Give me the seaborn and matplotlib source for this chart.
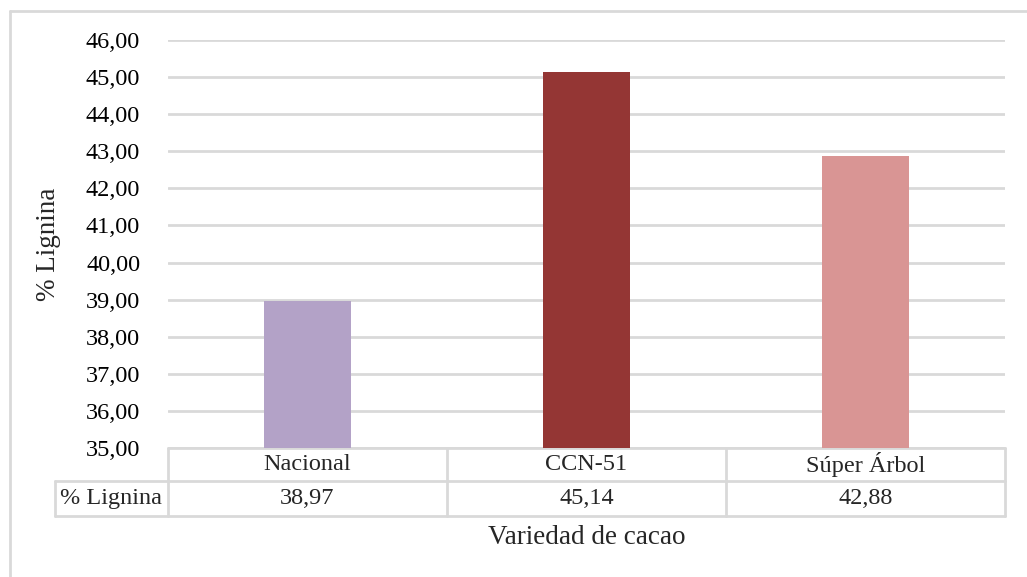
import matplotlib
matplotlib.use("Agg")
import matplotlib.pyplot as plt
import matplotlib.transforms as mtransforms
from matplotlib.lines import Line2D
from matplotlib.ticker import FuncFormatter, MultipleLocator
import pandas as pd
import seaborn as sns

# datos
variedades = ["Nacional", "CCN-51", "Súper Árbol"]
lignina = [38.97, 45.14, 42.88]
colores = ["#B3A2C7", "#943634", "#D99594"]
serie = "% Lignina"

df = pd.DataFrame({"variedad": variedades, "lignina": lignina})

sns.set_style("white")
plt.rcParams["font.family"] = ["Liberation Serif", "DejaVu Serif"]
plt.rcParams["font.size"] = 17.5

GRIS = "#D9D9D9"
FS = 17.5
FS_TIT = 19.5

fig = plt.figure(figsize=(10.27, 5.77), dpi=100)
ax = fig.add_axes([168 / 1027, 1 - 448 / 577, (1005 - 168) / 1027, (448 - 40) / 577])

sns.barplot(data=df, x="variedad", y="lignina", hue="variedad", palette=colores,
            width=0.315, legend=False, ax=ax, saturation=1, linewidth=0, zorder=3)

ax.set_ylim(35, 46)
ax.set_xlim(-0.5, len(variedades) - 0.5)
ax.yaxis.set_major_locator(MultipleLocator(1))
ax.yaxis.set_major_formatter(FuncFormatter(lambda v, p: f"{v:.2f}".replace(".", ",")))
ax.grid(axis="y", color=GRIS, linewidth=2, zorder=0)
ax.set_axisbelow(True)
for s in ax.spines.values():
    s.set_visible(False)
ax.tick_params(axis="y", length=0, pad=20, labelsize=FS, colors="black")
ax.set_xticks([])
ax.set_xlabel("")
ax.set_ylabel("% Lignina", fontsize=FS_TIT)
ax.yaxis.set_label_coords(-0.128, 0.5)

# tabla de datos (estilo Excel)
tr = mtransforms.blended_transform_factory(ax.transData, ax.transAxes)
h1 = 33 / 408
h2 = 68 / 408
x_lab = (55 - 168) / 837
kw = dict(color=GRIS, linewidth=2, clip_on=False)
ax.add_line(Line2D([-0.5, len(variedades) - 0.5], [0, 0], transform=tr, **kw))
ax.add_line(Line2D([x_lab, 1], [-h1, -h1], transform=ax.transAxes, **kw))
ax.add_line(Line2D([x_lab, 1], [-h2, -h2], transform=ax.transAxes, **kw))
ax.add_line(Line2D([x_lab, x_lab], [-h1, -h2], transform=ax.transAxes, **kw))
for i in range(len(variedades) + 1):
    ax.add_line(Line2D([i - 0.5, i - 0.5], [0, -h2], transform=tr, **kw))
for i, (v, val) in enumerate(zip(variedades, lignina)):
    ax.text(i, -h1 / 2, v, transform=tr, ha="center", va="center", fontsize=FS)
    ax.text(i, -(h1 + h2) / 2, f"{val:.2f}".replace(".", ","), transform=tr,
            ha="center", va="center", fontsize=FS)
ax.text(x_lab / 2, -(h1 + h2) / 2, serie, transform=ax.transAxes,
        ha="center", va="center", fontsize=FS)

ax.text(0.5, -(537 - 448) / 408, "Variedad de cacao", transform=ax.transAxes,
        ha="center", va="center", fontsize=FS_TIT)

# marco exterior del grafico
fig.add_artist(Line2D([10 / 1027, 10 / 1027], [0, 1 - 11 / 577], color=GRIS, linewidth=2,
                      transform=fig.transFigure))
fig.add_artist(Line2D([10 / 1027, 1], [1 - 11 / 577, 1 - 11 / 577], color=GRIS, linewidth=2,
                      transform=fig.transFigure))

fig.savefig("out.png", dpi=100)
